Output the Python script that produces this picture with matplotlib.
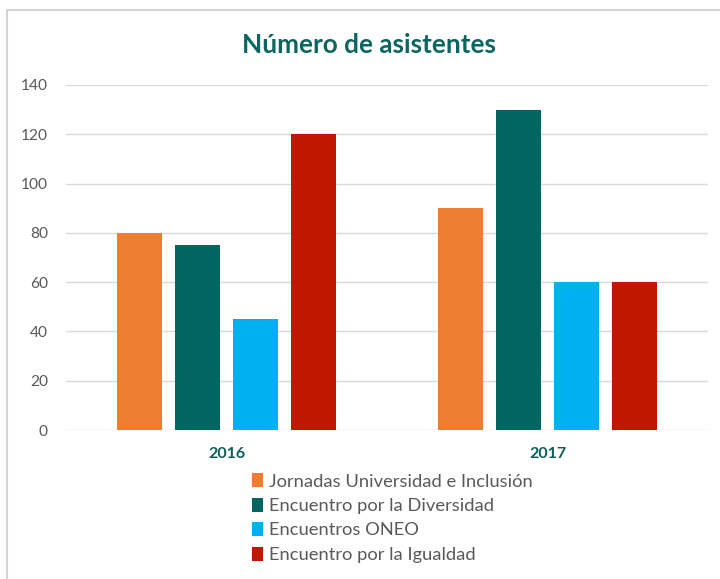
import matplotlib.pyplot as plt
import numpy as np
from matplotlib.patches import Rectangle

# datos del gráfico
years = ['2016', '2017']
series = ['Jornadas Universidad e Inclusión', 'Encuentro por la Diversidad',
          'Encuentros ONEO', 'Encuentro por la Igualdad']
jornadas = [80, 90]
diversidad = [75, 130]
oneo = [45, 60]
igualdad = [120, 60]
colors = ['#ED7D31', '#03655F', '#00B0F0', '#C01800']

plt.rcParams['font.family'] = ['Lato', 'DejaVu Sans']

W, H = 720, 579
fig = plt.figure(figsize=(W / 100, H / 100), dpi=100)

# marco del gráfico
fig.patches.append(Rectangle((7 / W, -0.05), 1.0, 1 - 10 / H + 0.05,
                             transform=fig.transFigure, fill=False,
                             ec='#d4d4d4', lw=1.5))

ax = fig.add_axes([66 / W, 1 - 430 / H, 642 / W, 345 / H])

ind = np.arange(len(years))
width = 0.143
pitch = 0.1807
values = [jornadas, diversidad, oneo, igualdad]
for i, (name, vals) in enumerate(zip(series, values)):
    ax.bar(ind + (i - 1.5) * pitch, vals, width, color=colors[i], label=name, zorder=3)

ax.set_xlim(-0.5, 1.5)
ax.set_ylim(0, 140)
ax.set_yticks(np.arange(0, 141, 20))
ax.set_xticks(ind)
ax.set_xticklabels(years, fontsize=11.5, fontweight='bold', color='#0B5F5A')
ax.tick_params(axis='y', labelsize=11.2, colors='#595959', length=0, pad=13)
ax.tick_params(axis='x', length=0, pad=12)
ax.grid(axis='y', color='#d9d9d9', lw=1, zorder=0)
for s in ax.spines.values():
    s.set_visible(False)

fig.text(369 / W, 1 - 45 / H, 'Número de asistentes', ha='center', va='center',
         fontsize=18.8, fontweight='bold', color='#0B6660')

fig.legend(loc='upper left', bbox_to_anchor=(243 / W, 1 - 464 / H), frameon=False,
           fontsize=13.2, labelcolor='#595959', handlelength=0.6, handleheight=0.8,
           handletextpad=0.3, labelspacing=0.44, borderpad=0)

fig.savefig('out.png', dpi=100)
